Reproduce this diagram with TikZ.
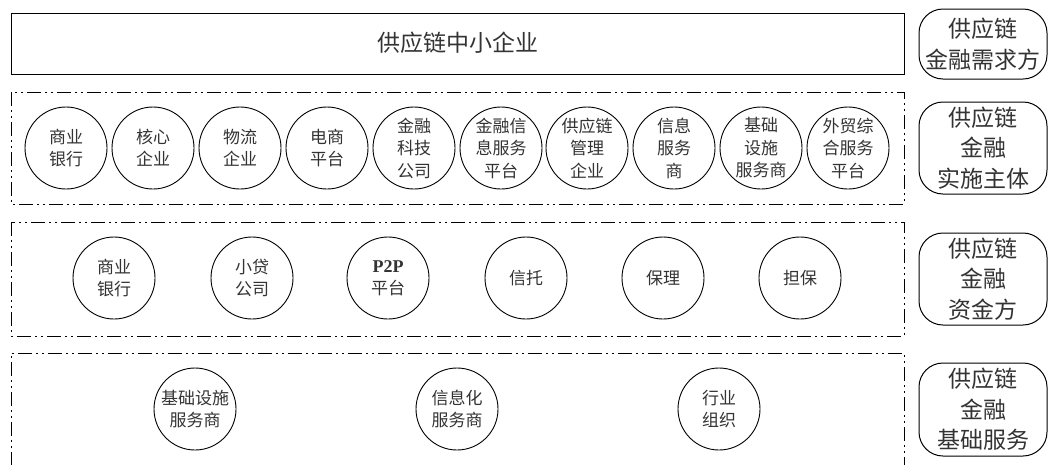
\documentclass[tikz,border=0pt]{standalone}
\usepackage{fontspec}
\setmainfont{Liberation Serif}
\newfontfamily\cjk{Noto Sans CJK SC}
\begin{document}
\begin{tikzpicture}[x=1pt,y=-1pt,
 solidbox/.style={draw, line width=1pt},
 dd/.style={draw, line width=1pt, dash pattern=on 14pt off 4pt on 2pt off 4pt on 2pt off 4pt},
 ent/.style={circle, draw, line width=0.9pt, minimum size=82pt, inner sep=0pt, align=center, font=\cjk\fontsize{17}{22.5}\selectfont, text=black!80},
 lab/.style={draw, rounded corners=24pt, line width=1pt, minimum width=128pt, align=center, font=\cjk\fontsize{23}{30.5}\selectfont, text=black!80, inner sep=0pt}
]
\useasboundingbox (0,0) rectangle (1049,464);
% layer boxes
\draw[solidbox] (11,13) rectangle (904,74);
\node[font=\cjk\fontsize{23}{28}\selectfont, text=black!80] (sme) at (458,43) {供应链中小企业};
\draw[dd] (11,92) rectangle (904,204);
\draw[dd] (11,222) rectangle (904,336);
\draw[dd] (11,466) -- (11,353) -- (904,353) -- (904,466);
% right labels
\node[lab, minimum height=70pt] (l1) at (983,44) {供应链\\金融需求方};
\node[lab, minimum height=92pt] (l2) at (983,148) {供应链\\金融\\实施主体};
\node[lab, minimum height=92pt] (l3) at (983,279) {供应链\\金融\\资金方};
\node[lab, minimum height=93pt] (l4) at (983,409.5) {供应链\\金融\\基础服务};
% row 2
\node[ent] (a1) at (66,148) {商业\\银行};
\node[ent] (a2) at (153,148) {核心\\企业};
\node[ent] (a3) at (240,148) {物流\\企业};
\node[ent] (a4) at (327,148) {电商\\平台};
\node[ent] (a5) at (414,148) {金融\\科技\\公司};
\node[ent] (a6) at (501,148) {金融信\\息服务\\平台};
\node[ent] (a7) at (587,148) {供应链\\管理\\企业};
\node[ent] (a8) at (674,148) {信息\\服务\\商};
\node[ent] (a9) at (761,148) {基础\\设施\\服务商};
\node[ent] (a10) at (848,148) {外贸综\\合服务\\平台};
% row 3
\node[ent] (b1) at (114,278) {商业\\银行};
\node[ent] (b2) at (252,278) {小贷\\公司};
\node[ent] (b3) at (388,278) {{\rmfamily\bfseries\fontsize{18}{22.5}\selectfont P2P}\\平台};
\node[ent] (b4) at (526,278) {信托};
\node[ent] (b5) at (663,278) {保理};
\node[ent] (b6) at (800,278) {担保};
% row 4
\node[ent] (c1) at (195,409) {基础设施\\服务商};
\node[ent] (c2) at (457,409) {信息化\\服务商};
\node[ent] (c3) at (719,409) {行业\\组织};
\end{tikzpicture}
\end{document}
